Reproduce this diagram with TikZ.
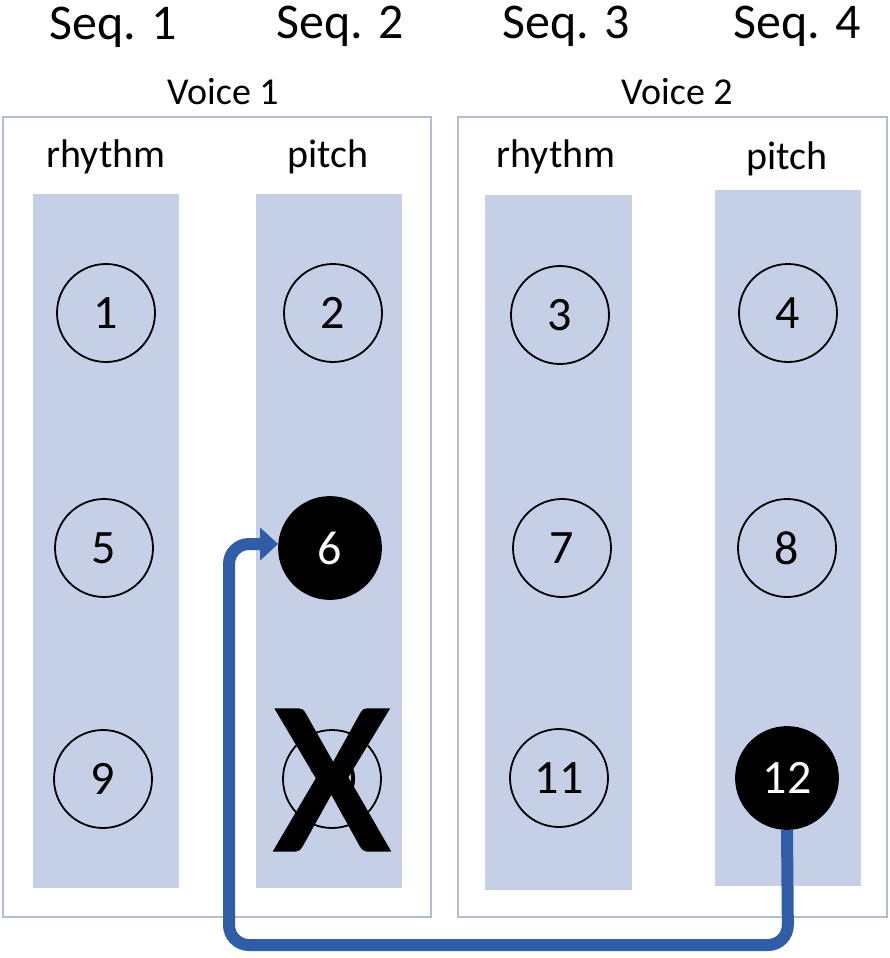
\documentclass[tikz,border=0pt]{standalone}
\usepackage{fontspec}
\setmainfont{Carlito}
\newfontfamily\xfont[FakeBold=2.5]{Carlito}
\usetikzlibrary{arrows.meta}
\definecolor{colfill}{RGB}{197,208,230}
\definecolor{boxline}{RGB}{176,189,211}
\definecolor{arrowblue}{RGB}{47,93,168}
\tikzset{
  voicebox/.style={draw=boxline, line width=2.5pt},
  colrect/.style={fill=colfill, draw=none},
  numc/.style={circle, draw=black, line width=1.8pt, minimum size=98pt, inner sep=0pt, font=\fontsize{48}{48}\selectfont},
  numblack/.style={numc, fill=black, text=white, minimum size=102pt},
  seqlab/.style={anchor=base, font=\fontsize{50}{50}\selectfont},
  voicelab/.style={anchor=base, font=\fontsize{38}{38}\selectfont},
  collab/.style={anchor=base, font=\fontsize{40}{40}\selectfont},
  link/.style={draw=arrowblue, line width=12pt, rounded corners=20pt, -{Triangle[length=18pt,width=32pt]}}
}
\begin{document}
\begin{tikzpicture}[x=1pt,y=-1pt]
\useasboundingbox (0,0) rectangle (890,958);
% voice boxes
\draw[voicebox] (3,117) rectangle (431,917);
\draw[voicebox] (458,117) rectangle (887,917);
% columns
\fill[colrect] (33,194) rectangle (179,888);
\fill[colrect] (256,194) rectangle (402,888);
\fill[colrect] (485,195) rectangle (632,890);
\fill[colrect] (715,190) rectangle (861,886);
% labels
\node[seqlab] (s1) at (113,40) {Seq. 1};
\node[seqlab] (s2) at (340,38) {Seq. 2};
\node[seqlab] (s3) at (566,38) {Seq. 3};
\node[seqlab] (s4) at (797,38) {Seq. 4};
\node[voicelab] (v1) at (223,104) {Voice 1};
\node[voicelab] (v2) at (677,104) {Voice 2};
\node[collab] (r1) at (106,167) {rhythm};
\node[collab] (p1) at (328,167) {pitch};
\node[collab] (r2) at (556,167) {rhythm};
\node[collab] (p2) at (787,169) {pitch};
% circles
\node[numc] (n1) at (106,313) {1};
\node[numc] (n2) at (333,313) {2};
\node[numc] (n3) at (560,315) {3};
\node[numc] (n4) at (788,313) {4};
\node[numc] (n5) at (104,548) {5};
\node[numblack] (n6) at (330,548) {6};
\node[numc] (n7) at (562,548) {7};
\node[numc] (n8) at (787,548) {8};
\node[numc] (n9) at (103,779) {9};
\node[numc] (n10) at (332,779) {10};
\node[numc] (n11) at (559,778) {11};
\node[numblack] (n12) at (787,778) {12};
% big X
\node[font=\xfont\fontsize{215}{215}\selectfont, inner sep=0pt] (x) at (332,780) {X};
% arrow
\coordinate (c1) at (788,945);
\coordinate (c2) at (229,945);
\coordinate (c3) at (229,544);
\draw[link] (n12.south) -- (c1) -- (c2) -- (c3) -- (n6.west |- c3);
\end{tikzpicture}
\end{document}
